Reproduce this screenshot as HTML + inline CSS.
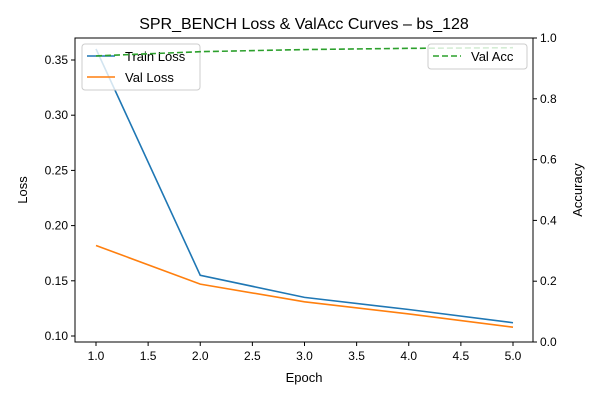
<!DOCTYPE html>
<html><head><meta charset="utf-8"><style>
body{margin:0;background:#fff}
svg{font-family:"Liberation Sans","DejaVu Sans",sans-serif}
</style></head><body>
<svg id="chart" width="600" height="400" viewBox="0 0 600 400">
<rect width="600" height="400" fill="#fff"/>
<text x="304" y="29" font-size="16" text-anchor="middle">SPR_BENCH Loss &amp; ValAcc Curves – bs_128</text>
<g id="plot"></g>
</svg>
<script>
const epochs=[1,2,3,4,5];
const trainLoss=[0.360,0.155,0.135,0.124,0.112];
const valLoss=[0.182,0.147,0.131,0.120,0.108];
const valAcc=[0.941,0.955,0.962,0.966,0.968];
const xTicks=[1.0,1.5,2.0,2.5,3.0,3.5,4.0,4.5,5.0];
const yTicks=[0.10,0.15,0.20,0.25,0.30,0.35];
const y2Ticks=[0.0,0.2,0.4,0.6,0.8,1.0];
const L=75,R=533,T=38,B=342;
const X=v=>96+(v-1)*104.25;
const Y=v=>336-(v-0.10)*1104;
const Y2=v=>B-v*(B-T);
const g=document.getElementById('plot');const NS='http://www.w3.org/2000/svg';
function el(t,a,txt){const e=document.createElementNS(NS,t);for(const k in a)e.setAttribute(k,a[k]);if(txt!=null)e.textContent=txt;g.appendChild(e);return e;}
xTicks.forEach(v=>{const x=X(v);
const t=el('line',{x1:x,x2:x,y1:B,y2:B+4,stroke:'#000'});
const l=el('text',{x:x,y:B+18,'font-size':12,'text-anchor':'middle'},v.toFixed(1));});
yTicks.forEach(v=>{const y=Y(v);
const t=el('line',{x1:L-4,x2:L,y1:y,y2:y,stroke:'#000'});
const l=el('text',{x:L-7,y:y+4,'font-size':12,'text-anchor':'end'},v.toFixed(2));});
y2Ticks.forEach(v=>{const y=Y2(v);
const t=el('line',{x1:R,x2:R+4,y1:y,y2:y,stroke:'#000'});
const l=el('text',{x:R+7,y:y+4,'font-size':12},v.toFixed(1));});
const xl=el('text',{x:304,y:382,'font-size':13,'text-anchor':'middle'},'Epoch');
const yl=el('text',{x:27,y:190,'font-size':13,'text-anchor':'middle',transform:'rotate(-90 27 190)'},'Loss');
const y2l=el('text',{x:582,y:190,'font-size':13,'text-anchor':'middle',transform:'rotate(-90 582 190)'},'Accuracy');
function pts(arr,f){return arr.map((v,i)=>X(epochs[i])+','+f(v)).join(' ');}
const tl=el('polyline',{points:pts(trainLoss,Y),fill:'none',stroke:'#1f77b4','stroke-width':1.6});
const vl=el('polyline',{points:pts(valLoss,Y),fill:'none',stroke:'#ff7f0e','stroke-width':1.6});
// left legend
const lg=el('rect',{x:82,y:44,width:118,height:46,rx:3,fill:'#fff','fill-opacity':0.8,stroke:'#ccc'});
el('line',{x1:87,x2:115,y1:56,y2:56,stroke:'#1f77b4','stroke-width':1.6});
const t1=el('text',{x:125,y:61,'font-size':13},'Train Loss');
el('line',{x1:87,x2:115,y1:77,y2:77,stroke:'#ff7f0e','stroke-width':1.6});
const t2=el('text',{x:125,y:82,'font-size':13},'Val Loss');
const va=el('polyline',{points:pts(valAcc,Y2),fill:'none',stroke:'#2ca02c','stroke-width':1.6,'stroke-dasharray':'6,3'});
const lg2=el('rect',{x:428,y:44,width:99,height:25,rx:3,fill:'#fff','fill-opacity':0.8,stroke:'#ccc'});
el('line',{x1:433,x2:461,y1:56,y2:56,stroke:'#2ca02c','stroke-width':1.6,'stroke-dasharray':'6,3'});
const t3=el('text',{x:471,y:61,'font-size':13},'Val Acc');
const fr=el('rect',{x:L,y:T,width:R-L,height:B-T,fill:'none',stroke:'#000','stroke-width':1});
</script>
</body></html>
